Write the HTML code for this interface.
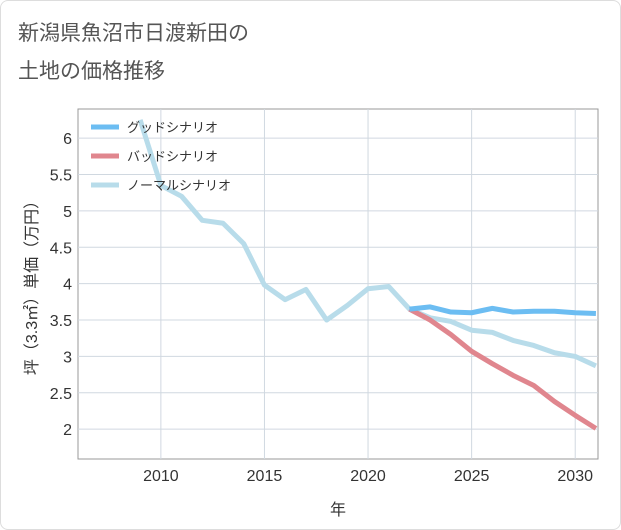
<!DOCTYPE html>
<html><head><meta charset="utf-8"><style>
body{margin:0;background:#fff;}
#c{position:relative;width:621px;height:530px;background:#fff;border:1px solid #ddd;box-sizing:border-box;border-radius:8px;overflow:hidden;font-family:"Liberation Sans","Noto Sans CJK JP",sans-serif;}
.t{position:absolute;left:17px;color:#555;font-size:21px;}
</style></head><body>
<div id="c">
<div class="t" style="top:16px">新潟県魚沼市日渡新田の</div>
<div class="t" style="top:54px">土地の価格推移</div>
<svg id="s" width="621" height="530" style="position:absolute;left:0;top:0"></svg>
</div>
<script>
const years=[2009,2010,2011,2012,2013,2014,2015,2016,2017,2018,2019,2020,2021,2022,2023,2024,2025,2026,2027,2028,2029,2030,2031];
const normal=[6.25,5.35,5.2,4.87,4.83,4.55,3.98,3.78,3.92,3.5,3.7,3.93,3.96,3.65,3.53,3.48,3.36,3.33,3.22,3.15,3.05,3.0,2.87];
const fYears=[2022,2023,2024,2025,2026,2027,2028,2029,2030,2031];
const good=[3.65,3.68,3.61,3.6,3.66,3.61,3.62,3.62,3.6,3.59];
const bad=[3.65,3.5,3.3,3.07,2.9,2.74,2.6,2.38,2.19,2.01];
const xTicks=[2010,2015,2020,2025,2030];
const yTicks=[2,2.5,3,3.5,4,4.5,5,5.5,6];
const L=77,R=597,T=108,B=458;
const x=v=>L+(v-2006)*(R-L)/(2031.1-2006);
const y=v=>B-(v-1.59)*(B-T)/(6.4-1.59);
const s=document.getElementById('s');const NS='http://www.w3.org/2000/svg';
function mk(t,a,p){const e=document.createElementNS(NS,t);for(const k in a)e.setAttribute(k,a[k]);(p||s).appendChild(e);return e;}
const bg=mk('rect',{x:L,y:T,width:R-L,height:B-T,fill:'#fff',stroke:'#999'});


xTicks.forEach(v=>{const g=mk('line',{x1:x(v),x2:x(v),y1:T,y2:B,stroke:'#d0d8e0'});


const t=mk('text',{x:x(v),y:B+22,'text-anchor':'middle','font-size':16,fill:'#333'});t.textContent=v;

});
yTicks.forEach(v=>{const g=mk('line',{x1:L,x2:R,y1:y(v),y2:y(v),stroke:'#d0d8e0'});


const t=mk('text',{x:L-6,y:y(v)+6,'text-anchor':'end','font-size':16,fill:'#333'});t.textContent=v;

});
function line(xs,vs,c,n){const p=mk('polyline',{points:xs.map((v,i)=>x(v)+','+y(vs[i])).join(' '),fill:'none',stroke:c,'stroke-width':5,'stroke-linejoin':'round'});

}
line(years,normal,'#b8dcea','normal-series-line');
line(fYears,bad,'#e0868e','bad-series-line');
line(fYears,good,'#6cbdf2','good-series-line');
const leg=[['グッドシナリオ','#6cbdf2'],['バッドシナリオ','#e0868e'],['ノーマルシナリオ','#b8dcea']];
leg.forEach((d,i)=>{const yy=126+i*29;const l=mk('line',{x1:90,x2:118,y1:yy,y2:yy,stroke:d[1],'stroke-width':5});


const t=mk('text',{x:126,y:yy+5,'font-size':13,fill:'#333'});t.textContent=d[0];

});
const xt=mk('text',{x:(L+R)/2,y:514,'text-anchor':'middle','font-size':16,fill:'#333'});xt.textContent='年';


const yt=mk('text',{x:0,y:0,'text-anchor':'middle','font-size':16,fill:'#333',transform:'translate(36,'+((T+B)/2)+') rotate(-90)'});yt.textContent='坪（3.3㎡）単価（万円）';


</script>
</body></html>
